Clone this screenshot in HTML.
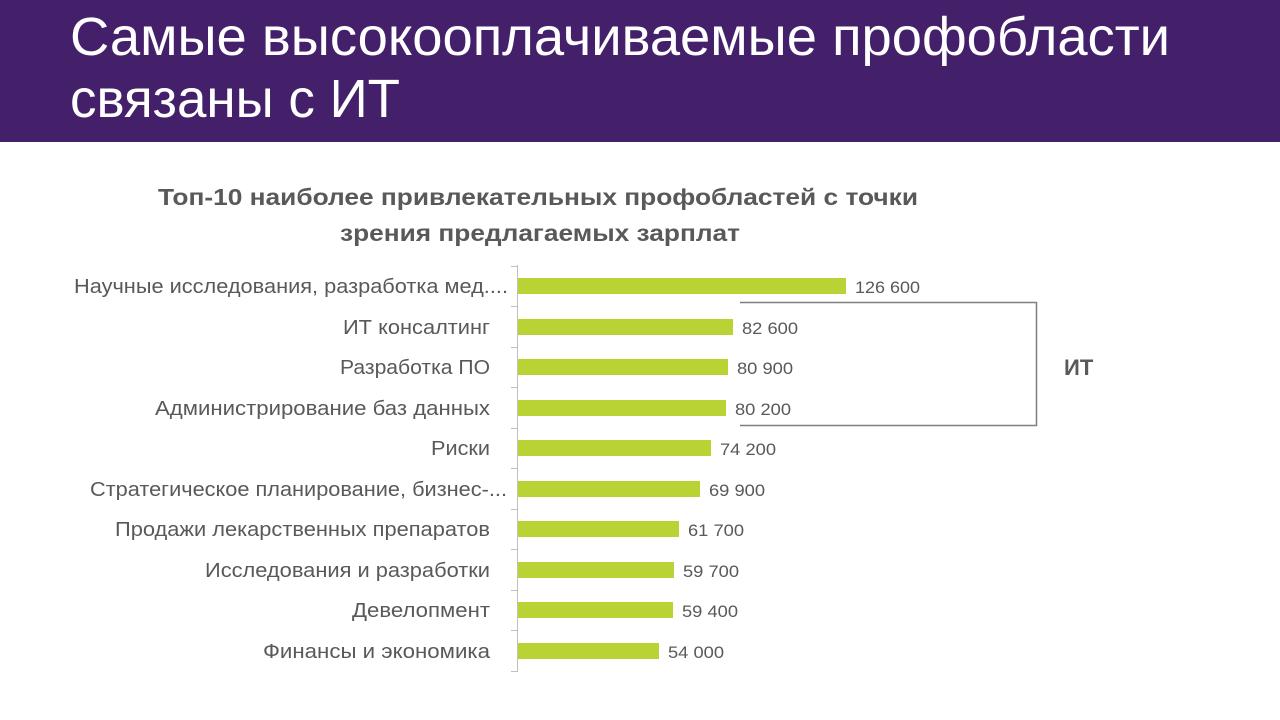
<!DOCTYPE html>
<html><head><meta charset="utf-8"><style>
html,body{margin:0;padding:0;background:#fff;width:1280px;height:720px;overflow:hidden}
svg{display:block}
text{font-family:"Liberation Sans",sans-serif}
</style></head><body>
<svg width="1280" height="720" viewBox="0 0 1280 720" xmlns="http://www.w3.org/2000/svg">
<rect x="0" y="0" width="1280" height="142" fill="#44206b"/>
<text x="70" y="55" font-size="54" fill="#fff" font-weight="300" textLength="1100" lengthAdjust="spacingAndGlyphs">Самые высокооплачиваемые профобласти</text>
<text x="70" y="117" font-size="54" fill="#fff" font-weight="300" textLength="330" lengthAdjust="spacingAndGlyphs">связаны с ИТ</text>
<g fill="#595959" font-weight="bold" font-size="23">
<text x="158" y="205" textLength="760" lengthAdjust="spacingAndGlyphs">Топ-10 наиболее привлекательных профобластей с точки</text>
<text x="340" y="241" textLength="400" lengthAdjust="spacingAndGlyphs">зрения предлагаемых зарплат</text>
</g>
<g stroke="#bfbfbf" stroke-width="1">
<line x1="517.5" y1="265" x2="517.5" y2="672"/>
<line x1="511" y1="266.5" x2="517" y2="266.5"/><line x1="511" y1="306.5" x2="517" y2="306.5"/>
<line x1="511" y1="347.5" x2="517" y2="347.5"/><line x1="511" y1="387.5" x2="517" y2="387.5"/>
<line x1="511" y1="428.5" x2="517" y2="428.5"/><line x1="511" y1="468.5" x2="517" y2="468.5"/>
<line x1="511" y1="509.5" x2="517" y2="509.5"/><line x1="511" y1="549.5" x2="517" y2="549.5"/>
<line x1="511" y1="590.5" x2="517" y2="590.5"/><line x1="511" y1="630.5" x2="517" y2="630.5"/>
<line x1="511" y1="671.5" x2="517" y2="671.5"/>
</g>
<g fill="#bad334">
<rect x="518" y="278" width="328" height="16"/>
<rect x="518" y="319" width="215" height="16"/>
<rect x="518" y="359" width="210" height="16"/>
<rect x="518" y="400" width="208" height="16"/>
<rect x="518" y="440" width="193" height="16"/>
<rect x="518" y="481" width="182" height="16"/>
<rect x="518" y="521" width="161" height="16"/>
<rect x="518" y="562" width="156" height="16"/>
<rect x="518" y="602" width="155" height="16"/>
<rect x="518" y="643" width="141" height="16"/>
</g>
<g fill="#595959" font-size="17">
<text x="855" y="293" textLength="65" lengthAdjust="spacingAndGlyphs">126 600</text>
<text x="742" y="334" textLength="56" lengthAdjust="spacingAndGlyphs">82 600</text>
<text x="737" y="374" textLength="56" lengthAdjust="spacingAndGlyphs">80 900</text>
<text x="735" y="415" textLength="56" lengthAdjust="spacingAndGlyphs">80 200</text>
<text x="720" y="455" textLength="56" lengthAdjust="spacingAndGlyphs">74 200</text>
<text x="709" y="496" textLength="56" lengthAdjust="spacingAndGlyphs">69 900</text>
<text x="688" y="536" textLength="56" lengthAdjust="spacingAndGlyphs">61 700</text>
<text x="683" y="577" textLength="56" lengthAdjust="spacingAndGlyphs">59 700</text>
<text x="682" y="617" textLength="56" lengthAdjust="spacingAndGlyphs">59 400</text>
<text x="668" y="658" textLength="56" lengthAdjust="spacingAndGlyphs">54 000</text>
</g>
<g fill="#595959" font-size="20" text-anchor="end">
<text x="508" y="293" textLength="434" lengthAdjust="spacingAndGlyphs">Научные исследования, разработка мед....</text>
<text x="490" y="334" textLength="147" lengthAdjust="spacingAndGlyphs">ИТ консалтинг</text>
<text x="490" y="374" textLength="150" lengthAdjust="spacingAndGlyphs">Разработка ПО</text>
<text x="490" y="415" textLength="335" lengthAdjust="spacingAndGlyphs">Администрирование баз данных</text>
<text x="490" y="455" textLength="59" lengthAdjust="spacingAndGlyphs">Риски</text>
<text x="507" y="496" textLength="417" lengthAdjust="spacingAndGlyphs">Стратегическое планирование, бизнес-...</text>
<text x="490" y="536" textLength="375" lengthAdjust="spacingAndGlyphs">Продажи лекарственных препаратов</text>
<text x="490" y="577" textLength="285" lengthAdjust="spacingAndGlyphs">Исследования и разработки</text>
<text x="490" y="617" textLength="138" lengthAdjust="spacingAndGlyphs">Девелопмент</text>
<text x="490" y="658" textLength="227" lengthAdjust="spacingAndGlyphs">Финансы и экономика</text>
</g>
<polyline points="740,302.5 1036.5,302.5 1036.5,425.5 740,425.5" fill="none" stroke="#7f7f7f" stroke-width="1.5"/>
<text x="1064" y="375" fill="#595959" font-size="22" font-weight="bold">ИТ</text>
</svg>
</body></html>
